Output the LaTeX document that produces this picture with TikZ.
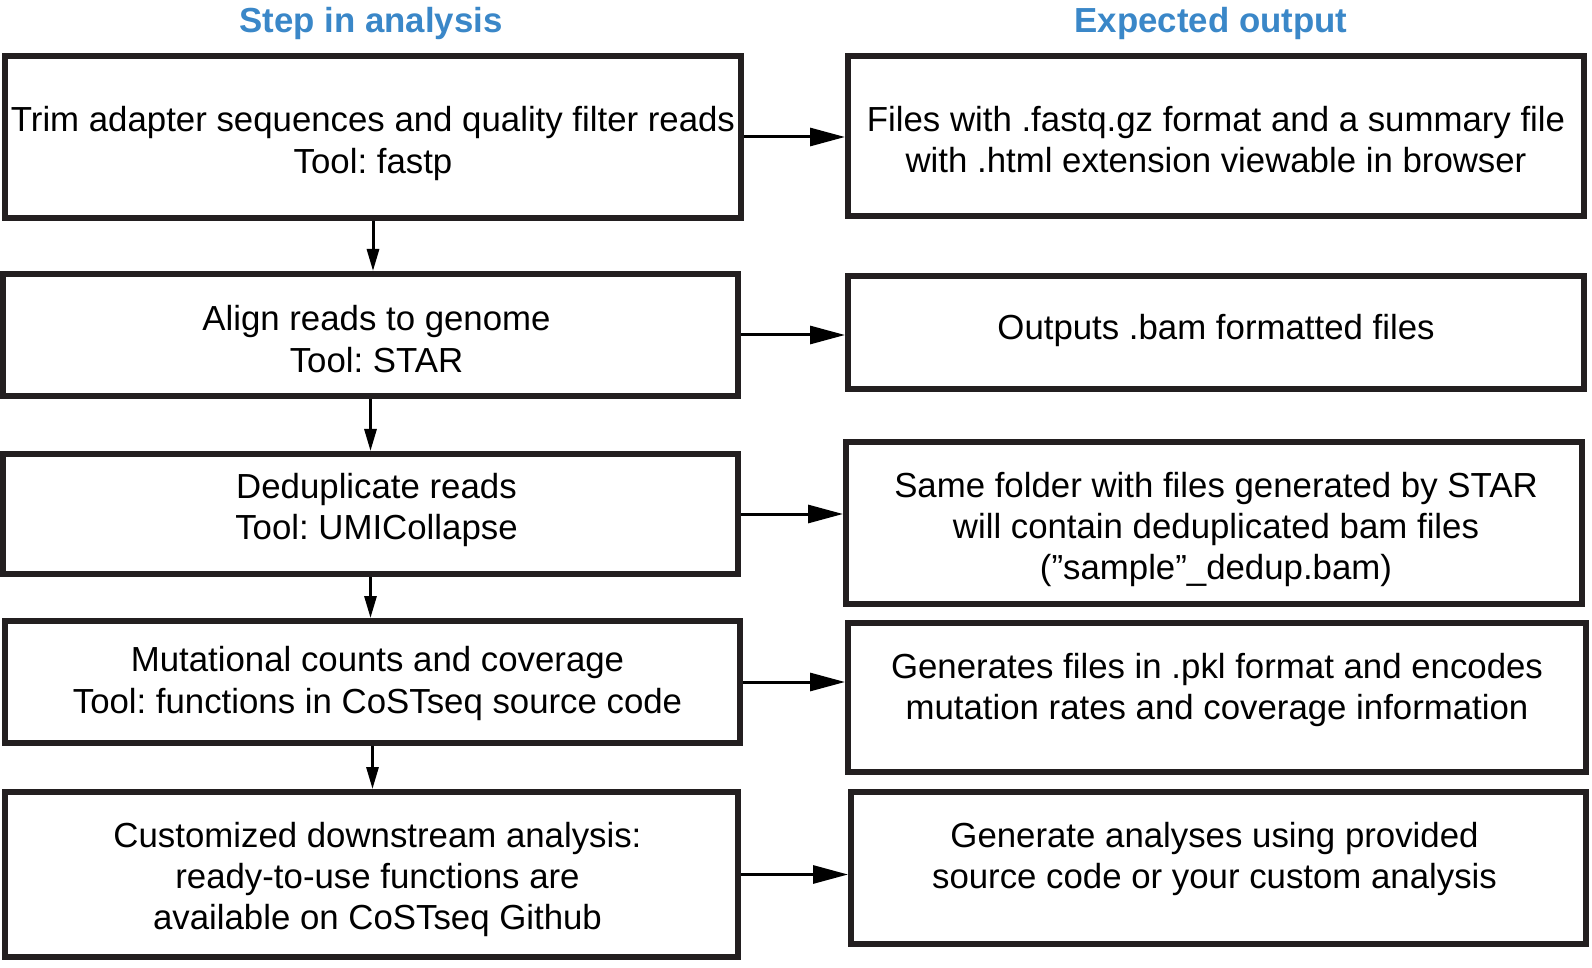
\documentclass[tikz,border=0pt]{standalone}
\usepackage{fontspec}
\setmainfont{Liberation Sans}
\frenchspacing
\usetikzlibrary{arrows.meta}
\definecolor{titleblue}{HTML}{3A87C8}
\definecolor{boxline}{HTML}{231F20}
\begin{document}
\begin{tikzpicture}[x=0.5pt, y=-0.5pt, font=\fontsize{17.4}{20.6}\selectfont, line join=miter,
	stepbox/.style={draw=boxline, line width=3pt, inner sep=0pt},
	txt/.style={align=center, inner sep=0pt},
	head/.style={font=\fontsize{17.4}{20.6}\selectfont\bfseries, text=titleblue},
	toout/.style={line width=1.5pt, -{Triangle[length=17.5pt, width=9pt]}},
	tonext/.style={line width=1.5pt, -{Triangle[length=11pt, width=6pt]}}]
	\useasboundingbox (0,0) rectangle (1592,968);
	\node[head] (hstep) at (371,24) {Step in analysis};
	\node[head] (hout) at (1211,24) {Expected output};
	% steps
	\node[stepbox, minimum width=368pt, minimum height=81pt, label={[txt, yshift=-3.3pt]center:Trim adapter sequences and quality filter reads\\Tool: fastp}] (trim) at (373,137) {};
	\node[stepbox, minimum width=367.5pt, minimum height=61pt, label={[txt, xshift=3pt, yshift=-2pt]center:Align reads to genome\\Tool: STAR}] (align) at (370.5,335) {};
	\node[stepbox, minimum width=367.5pt, minimum height=60pt, label={[txt, xshift=3pt, yshift=1.8pt]center:Deduplicate reads\\Tool: UMICollapse}] (dedup) at (370.5,514) {};
	\node[stepbox, minimum width=367.5pt, minimum height=61pt, label={[txt, xshift=2.5pt, yshift=-0.8pt]center:Mutational counts and coverage\\Tool: functions in CoSTseq source code}] (counts) at (372.5,682) {};
	\node[stepbox, minimum width=366.5pt, minimum height=82.5pt, label={[txt, xshift=3pt, yshift=-2.5pt]center:Customized downstream analysis:\\ready-to-use functions are\\available on CoSTseq Github}] (custom) at (371.5,874.5) {};
	% outputs
	\node[stepbox, minimum width=368pt, minimum height=80pt, label={[txt, yshift=-1.8pt]center:Files with .fastq.gz format and a summary file\\with .html extension viewable in browser}] (trimout) at (1216,136) {};
	\node[stepbox, minimum width=368pt, minimum height=56.5pt, label={[txt, yshift=1pt]center:Outputs .bam formatted files}] (alignout) at (1216,332.5) {};
	\node[stepbox, minimum width=368pt, minimum height=81pt, label={[txt, xshift=1pt, yshift=-3.4pt]center:Same folder with files generated by STAR\\will contain deduplicated bam files\\(”sample”\_dedup.bam)}] (dedupout) at (1214,523) {};
	\node[stepbox, minimum width=369pt, minimum height=74.5pt, label={[txt, yshift=3.8pt]center:Generates files in .pkl format and encodes\\mutation rates and coverage information}] (countsout) at (1217,697.5) {};
	\node[stepbox, minimum width=367.5pt, minimum height=76pt, label={[txt, xshift=-2pt, yshift=4.6pt]center:Generate analyses using provided\\source code or your custom analysis}] (customout) at (1218.5,868) {};
	\foreach \a/\b in {trim/align, align/dedup, dedup/counts, counts/custom}
		\draw[tonext] (\a.south) -- (\a.south |- \b.north);
	\foreach \a in {trim, align, dedup, counts, custom}
		\draw[toout] (\a.east) -- (\a.east -| \a out.west);
\end{tikzpicture}
\end{document}
